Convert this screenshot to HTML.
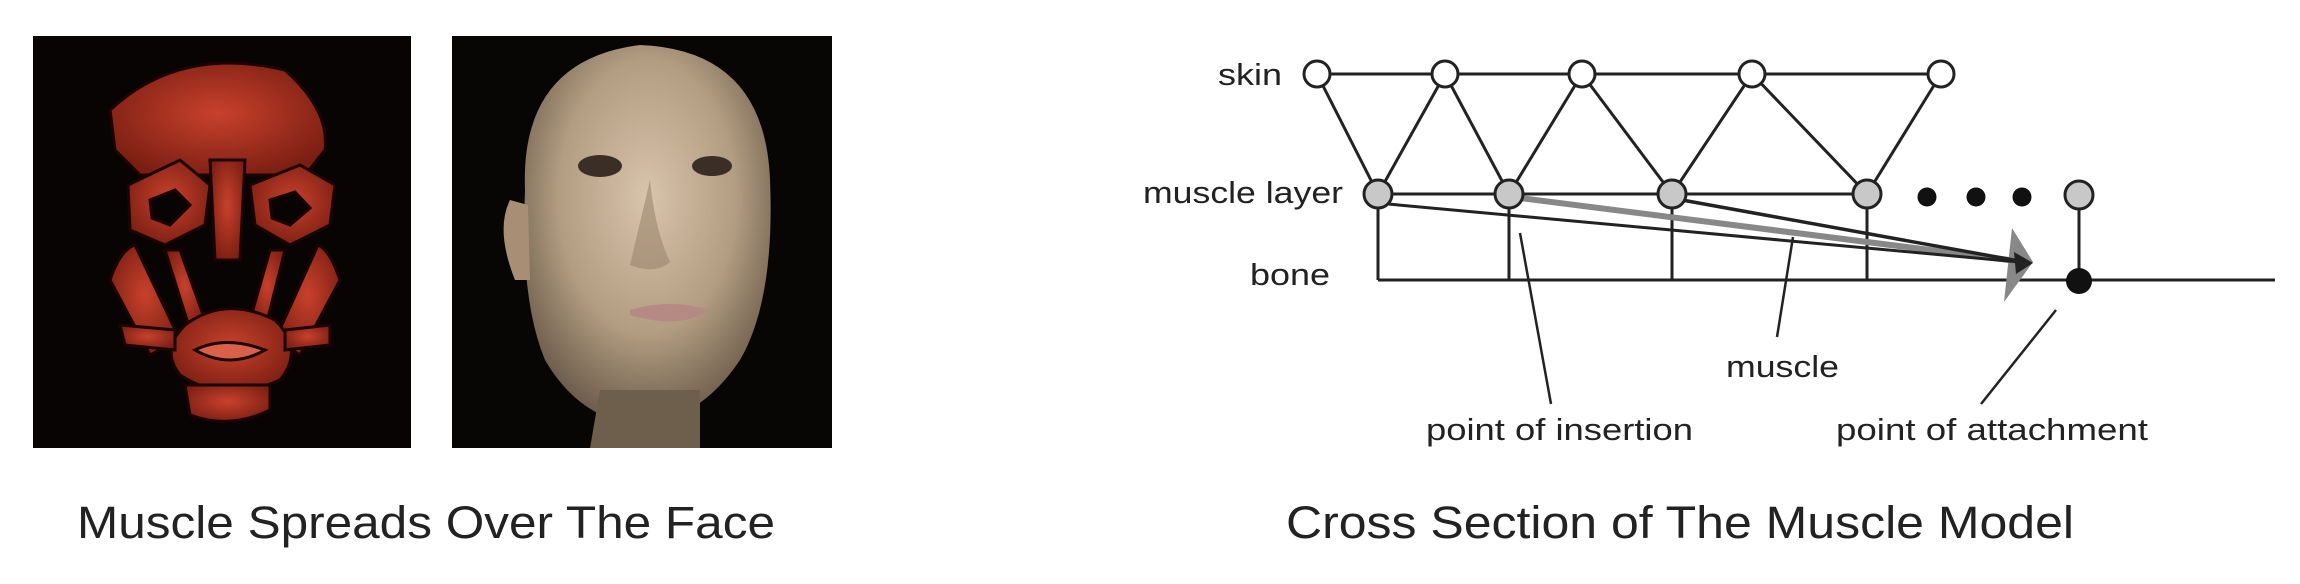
<!DOCTYPE html>
<html><head><meta charset="utf-8"><style>
html,body{margin:0;padding:0;background:#fff;}
svg{display:block;}
text{font-family:"Liberation Sans",Arial,sans-serif;fill:#222;}
</style></head><body>
<svg width="2300" height="584" viewBox="0 0 2300 584" xmlns="http://www.w3.org/2000/svg">
<defs>
<radialGradient id="skin" cx="50%" cy="40%" r="60%">
<stop offset="0" stop-color="#d9c4ac"/><stop offset="0.6" stop-color="#b29c82"/><stop offset="1" stop-color="#6e5e4c"/>
</radialGradient>
<radialGradient id="red" cx="50%" cy="45%" r="60%">
<stop offset="0" stop-color="#c8412c"/><stop offset="1" stop-color="#7a1e12"/>
</radialGradient>
</defs>
<rect x="33" y="36" width="378" height="412" fill="#080404"/>
<g fill="url(#red)" stroke="#1a0503" stroke-width="3">
<path d="M110 110 Q180 45 285 70 Q330 110 325 150 L305 175 L140 175 L115 150 Z"/>
<path d="M128 185 L180 160 L210 185 L205 225 L165 245 L130 230 Z M150 200 L175 190 L190 205 L170 225 L152 218 Z" fill-rule="evenodd"/>
<path d="M250 185 L300 165 L335 185 L330 225 L290 245 L255 225 Z M270 200 L295 192 L310 208 L290 225 L272 218 Z" fill-rule="evenodd"/>
<path d="M210 160 L245 160 L240 260 L215 260 Z"/>
<path d="M165 250 L180 250 L205 320 L190 330 Z"/>
<path d="M270 250 L285 250 L265 330 L250 320 Z"/>
<path d="M110 280 Q120 250 135 245 L180 340 L150 355 Z"/>
<path d="M340 280 Q330 250 318 245 L275 340 L300 355 Z"/>
<path d="M185 325 Q225 295 275 320 Q305 350 280 380 Q225 405 180 375 Q160 350 185 325 Z"/>
<path d="M195 350 Q225 335 265 350 Q230 370 195 350 Z" fill="#d9604a"/>
<path d="M120 325 L175 330 L175 350 L125 345 Z"/>
<path d="M330 325 L285 330 L285 350 L330 345 Z"/>
<path d="M185 385 L270 385 L270 410 Q230 430 190 415 Z"/>
</g>
<rect x="452" y="36" width="380" height="412" fill="#080605"/>
<path d="M525 190 Q520 60 640 45 Q765 50 770 180 Q775 300 740 360 Q700 420 640 425 Q580 420 545 360 Q520 300 525 190 Z" fill="url(#skin)"/>
<path d="M510 200 Q495 230 515 280 L530 280 L528 205 Z" fill="#a88e74"/>
<path d="M590 448 L600 390 L700 390 L700 448 Z" fill="#6e5e4c"/>
<ellipse cx="600" cy="166" rx="22" ry="11" fill="#3a2e26"/>
<ellipse cx="712" cy="166" rx="20" ry="10" fill="#3a2e26"/>
<path d="M650 180 Q655 230 670 262 Q655 275 630 265 Z" fill="#9b8670" opacity="0.6"/>
<path d="M630 310 Q670 298 710 310 Q680 330 630 315 Z" fill="#b58a84"/>
<text x="77" y="538" font-size="45" textLength="698" lengthAdjust="spacingAndGlyphs" fill="#000">Muscle Spreads Over The Face</text>
<text x="1286" y="538" font-size="45" textLength="788" lengthAdjust="spacingAndGlyphs" fill="#000">Cross Section of The Muscle Model</text>
<g stroke="#222" stroke-width="3" fill="none">
<line x1="1317" y1="74" x2="1941" y2="74"/>
<polyline points="1317,74 1378,194 1445,74 1509,194 1582,74 1672,194 1752,74 1867,194 1941,74"/>
<line x1="1378" y1="194" x2="1867" y2="194"/>
<line x1="1378" y1="280" x2="2275" y2="280"/>
<line x1="1378" y1="194" x2="1378" y2="280"/>
<line x1="1509" y1="194" x2="1509" y2="280"/>
<line x1="1672" y1="194" x2="1672" y2="280"/>
<line x1="1867" y1="194" x2="1867" y2="280"/>
<line x1="2079" y1="195" x2="2079" y2="280"/>
<line x1="1520" y1="233" x2="1551" y2="404" stroke-width="2.5"/>
<line x1="1793" y1="237" x2="1777" y2="337" stroke-width="2.5"/>
<line x1="2056" y1="310" x2="1981" y2="404" stroke-width="2.5"/>
</g>
<polygon points="2012,228 2033,262 2004,302" fill="#888"/>
<line x1="1520" y1="198" x2="2025" y2="262" stroke="#888" stroke-width="6"/>
<line x1="1388" y1="204" x2="2030" y2="263" stroke="#222" stroke-width="3"/>
<line x1="1682" y1="200" x2="2030" y2="263" stroke="#222" stroke-width="3.5"/>
<polygon points="2014,252 2033,263 2016,274" fill="#222"/>
<g stroke="#222" stroke-width="3">
<g fill="#fff">
<circle cx="1317" cy="74" r="13"/><circle cx="1445" cy="74" r="13"/><circle cx="1582" cy="74" r="13"/><circle cx="1752" cy="74" r="13"/><circle cx="1941" cy="74" r="13"/>
</g>
<g fill="#c8c8c8">
<circle cx="1378" cy="194" r="14"/><circle cx="1509" cy="194" r="14"/><circle cx="1672" cy="194" r="14"/><circle cx="1867" cy="194" r="14"/><circle cx="2079" cy="195" r="14"/>
</g>
</g>
<g fill="#111">
<circle cx="1927" cy="197" r="9.5"/><circle cx="1976" cy="197" r="9.5"/><circle cx="2022" cy="197" r="9.5"/>
<circle cx="2079" cy="281" r="13"/>
</g>
<g font-size="31">
<text x="1218" y="85" textLength="64" lengthAdjust="spacingAndGlyphs">skin</text>
<text x="1143" y="203" textLength="200" lengthAdjust="spacingAndGlyphs">muscle layer</text>
<text x="1250" y="285" textLength="80" lengthAdjust="spacingAndGlyphs">bone</text>
<text x="1726" y="377" textLength="113" lengthAdjust="spacingAndGlyphs">muscle</text>
<text x="1426" y="440" textLength="267" lengthAdjust="spacingAndGlyphs">point of insertion</text>
<text x="1836" y="440" textLength="312" lengthAdjust="spacingAndGlyphs">point of attachment</text>
</g>
</svg>
</body></html>
